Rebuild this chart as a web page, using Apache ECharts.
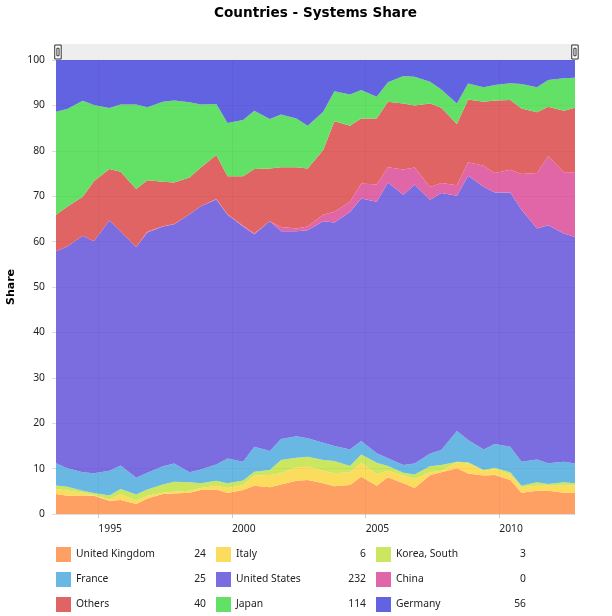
<!DOCTYPE html>
<html><head><meta charset="utf-8">
<style>html,body{margin:0;padding:0;background:#fff}#c{width:612px;height:616px}</style>
<script src="https://cdn.jsdelivr.net/npm/echarts@6/dist/echarts.min.js"></script>
</head><body><div id="c"></div>
<script>
const dates=['1993-06-01','1993-11-01','1994-06-01','1994-11-01','1995-06-01','1995-11-01','1996-06-01','1996-11-01','1997-06-01','1997-11-01','1998-06-01','1998-11-01','1999-06-01','1999-11-01','2000-06-01','2000-11-01','2001-06-01','2001-11-01','2002-06-01','2002-11-01','2003-06-01','2003-11-01','2004-06-01','2004-11-01','2005-06-01','2005-11-01','2006-06-01','2006-11-01','2007-06-01','2007-11-01','2008-06-01','2008-11-01','2009-06-01','2009-11-01','2010-06-01','2010-11-01','2011-06-01','2011-11-01','2012-06-01','2012-11-01'];
const unitedKingdom=[4.4,4.0,4.0,4.0,2.9,3.1,2.2,3.4,4.4,4.5,4.7,5.3,5.4,4.6,5.3,6.2,5.9,6.5,7.3,7.5,6.8,6.1,6.4,8.2,6.2,8.1,6.8,5.7,8.6,9.2,10.1,8.9,8.5,8.6,7.5,4.7,5.1,5.1,4.7,4.6];
const italy=[1.1,1.2,0.7,0.2,0.3,1.3,0.7,0.6,0.3,0.4,0.4,0.4,0.8,1.1,1.1,2.2,2.7,2.5,3.0,2.9,2.7,2.9,2.8,3.1,2.6,1.4,1.7,2.0,0.6,0.3,1.3,2.2,1.0,1.3,1.2,1.2,1.1,1.1,1.5,1.7];
const koreaSouth=[0.8,0.8,0.4,0.4,0.9,1.1,1.4,1.4,1.8,2.2,1.9,1.1,1.1,1.1,1.0,0.9,1.1,2.9,2.1,2.2,2.4,2.7,1.4,1.8,2.5,1.1,0.6,1.0,1.3,1.3,0.1,0.3,0.2,0.3,0.5,0.3,0.8,0.4,0.8,0.5];
const france=[4.9,4.1,4.1,4.4,5.4,5.2,3.7,3.7,4.0,4.0,2.2,3.0,3.6,5.4,4.1,5.5,4.2,4.6,4.7,4.1,3.8,3.3,3.6,3.0,2.1,1.7,1.7,2.4,2.8,3.3,6.8,4.9,4.5,5.2,5.6,5.3,5.0,4.6,4.5,4.3];
const unitedStates=[46.7,48.8,52.1,51.1,55.2,51.6,50.8,52.9,52.8,52.7,56.8,58.0,58.4,53.7,51.8,46.8,50.6,45.8,45.2,45.8,48.8,49.2,52.3,53.4,55.4,60.7,59.5,61.5,55.9,56.6,51.8,58.2,57.9,55.4,56.0,55.5,50.9,52.4,50.3,49.9];
const china=[0,0,0,0,0,0,0,0.2,0.1,0.1,0,0,0.1,0.1,0.2,0.2,0,0.9,0.6,0.8,1.4,2.4,2.3,3.3,3.8,3.4,5.6,3.7,2.8,2.2,2.3,3.0,4.6,4.3,5.0,7.9,12.2,15.2,13.5,14.3];
const others=[8.0,8.8,8.6,13.2,11.3,13.1,12.8,11.3,9.8,9.1,8.1,8.5,9.7,8.4,10.9,14.2,11.6,13.2,13.5,12.8,14.3,19.9,16.7,14.3,14.5,14.4,14.5,13.7,18.4,16.6,13.5,13.8,14.1,16.0,15.4,14.4,13.4,10.9,13.5,14.2];
const japan=[22.7,21.5,21.1,16.8,13.4,14.8,18.6,16.1,17.6,18.1,16.6,13.9,11.2,11.7,12.4,12.8,10.9,11.6,10.7,9.4,8.4,6.6,6.9,6.3,4.8,4.3,6.1,6.3,4.8,4.0,4.5,3.5,3.2,3.4,3.7,5.4,5.5,5.9,7.2,6.6];
const germany=[11.4,10.8,9.0,9.9,10.6,9.8,9.8,10.4,9.2,8.9,9.3,9.8,9.7,13.9,13.2,11.2,13.0,12.0,12.9,14.5,11.4,6.9,7.6,6.6,8.1,4.9,3.5,3.7,4.8,6.5,9.6,5.2,6.0,5.5,5.1,5.3,6.0,4.4,4.0,3.9];
const xTicks=['1995-01-01','2000-01-01','2005-01-01','2010-01-01'];
const systemCounts={'United Kingdom':24,'Italy':6,'Korea, South':3,'France':25,'United States':232,'China':0,'Others':40,'Japan':114,'Germany':56};
const legendOrder=['United Kingdom','Italy','Korea, South','France','United States','China','Others','Japan','Germany'];
const stackOrder=[
 ['United Kingdom',unitedKingdom,'#fe9f63'],
 ['Italy',italy,'#fbdc5c'],
 ['Korea, South',koreaSouth,'#cbe65f'],
 ['France',france,'#69b8e3'],
 ['United States',unitedStates,'#7b6ce0'],
 ['China',china,'#e066a8'],
 ['Others',others,'#e06464'],
 ['Japan',japan,'#63e066'],
 ['Germany',germany,'#6263e0']
];
const FONT='"Noto Sans"';
const FS=10.3;
const ms=d=>+new Date(d);
const tickTimes=xTicks.map(ms);
const chart=echarts.init(document.getElementById('c'),null,{renderer:'canvas'});
chart.setOption({
 animation:false,
 backgroundColor:'#fff',
 textStyle:{fontFamily:FONT},
 title:{text:'Countries - Systems Share',left:214,top:6,padding:0,
  textStyle:{fontFamily:'"DejaVu Sans"',fontSize:13.6,fontWeight:'bold',color:'#000'}},
 grid:{left:56,right:37,top:60,bottom:102,outerBoundsMode:'none'},
 xAxis:{type:'value',min:ms(dates[0]),max:ms(dates[dates.length-1]),z:3,
  axisLine:{show:true,lineStyle:{color:'#ddd'}},
  axisTick:{show:true,length:4,lineStyle:{color:'#ccc'},customValues:tickTimes},
  axisLabel:{customValues:tickTimes,formatter:v=>String(new Date(v).getUTCFullYear()),align:'left',margin:10,color:'#222',fontSize:FS,fontFamily:FONT},
  splitLine:{show:true,lineStyle:{color:'rgba(0,0,0,0.035)'}}},
 yAxis:{type:'value',min:0,max:100,interval:10,z:3,name:'Share',nameLocation:'middle',nameGap:28,
  nameTextStyle:{fontFamily:'"DejaVu Sans"',fontWeight:'bold',fontSize:11,color:'#000'},
  axisLine:{show:false,lineStyle:{color:'#ddd'}},
  axisTick:{show:true,length:4,lineStyle:{color:'#ddd'}},
  axisLabel:{color:'#222',fontSize:FS,margin:11,fontFamily:FONT},
  splitLine:{show:true,lineStyle:{color:'rgba(0,0,0,0.03)'}}},
 dataZoom:[{type:'slider',xAxisIndex:0,filterMode:'none',start:0,end:100,left:56,right:37,top:44,height:16,
  showDetail:false,showDataShadow:false,brushSelect:false,backgroundColor:'#eeeeee',borderColor:'transparent',
  fillerColor:'rgba(0,0,0,0)',moveHandleSize:0,handleIcon:'path://M0,0H6V13H0Z M2,3H4V10H2Z',handleSize:14,
  handleStyle:{color:'#fff',borderColor:'#333',borderWidth:1}}],
 legend:{left:56,top:547,width:500,padding:0,orient:'horizontal',itemWidth:15,itemHeight:15,itemGap:10,itemTextGap:4,
  icon:'rect',selectedMode:false,data:legendOrder,
  formatter:n=>`{n|${n}}{v|${systemCounts[n]}}`,
  textStyle:{rich:{
   n:{width:105,align:'left',fontSize:FS,color:'#222',fontFamily:FONT,lineHeight:15},
   v:{width:25,align:'right',fontSize:FS,color:'#222',fontFamily:FONT,lineHeight:15}}}},
 graphic:[{type:'group',left:503,top:66,z:10,children:[
   {type:'circle',shape:{cx:6,cy:6,r:5},style:{fill:'none',stroke:'#111133',lineWidth:1.5}},
   {type:'line',shape:{x1:3.5,y1:6,x2:8.5,y2:6},style:{stroke:'#111133',lineWidth:1.2}},
   {type:'line',shape:{x1:10,y1:10,x2:14,y2:13},style:{stroke:'#111133',lineWidth:2.2}},
   {type:'text',x:20,y:2,style:{text:'Show all',fontFamily:FONT,fontSize:FS,fill:'#111133'}}
 ]}],
 series:stackOrder.map(([name,vals,color])=>({
  name,type:'line',stack:'share',symbol:'none',color,z:2,
  encode:{x:1,y:0},
  lineStyle:{width:0},areaStyle:{color,opacity:1},itemStyle:{color},
  data:vals.map((v,i)=>[v,ms(dates[i])])
 }))
});
</script></body></html>
